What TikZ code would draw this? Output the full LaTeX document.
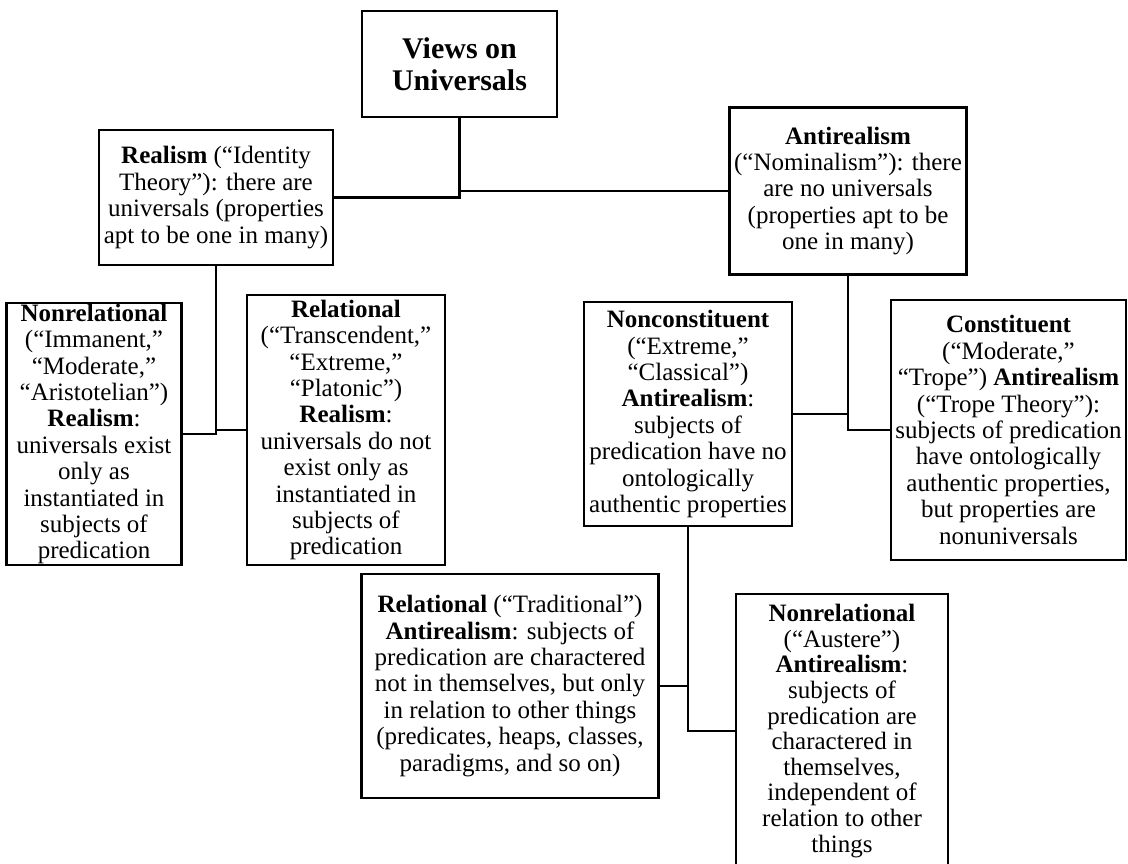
\documentclass[tikz,border=0pt]{standalone}
\usepackage{fontspec}
\setmainfont{Liberation Serif}
\tikzset{
	box/.style={draw, line width=1.4pt, align=center, inner sep=0pt,
		font=\fontsize{12.5}{13.2}\selectfont},
	link/.style={line width=1.4pt}
}
\begin{document}
\begin{tikzpicture}[x=0.5pt, y=-0.5pt]
		\useasboundingbox (0,0) rectangle (1128,863);
		\clip (0,0) rectangle (1128,863);
		
		% Caixas
		\node[box, minimum width=97.5pt, minimum height=53pt, font=\fontsize{15}{16}\selectfont\bfseries] (views) at (459.5,64)
			{Views on\\Universals};											% Topo
		\node[box, minimum width=117pt, minimum height=67.5pt] (real) at (216,197.5)
			{\textbf{Realism} (“Identity\\Theory”): there are\\universals (properties\\apt to be one in many)};
		\node[box, minimum width=118.5pt, minimum height=83.5pt] (anti) at (848,191)
			{\textbf{Antirealism}\\(“Nominalism”): there\\are no universals\\(properties apt to be\\one in many)};
		
		\node[box, minimum width=87.5pt, minimum height=131pt] (nonrel) at (94,434)
			{\textbf{Nonrelational}\\(“Immanent,”\\“Moderate,”\\“Aristotelian”)\\\textbf{Realism}:\\universals exist\\only as\\instantiated in\\subjects of\\predication};
		\node[box, minimum width=99pt, minimum height=135pt] (rel) at (346,430)
			{\textbf{Relational}\\(“Transcendent,”\\“Extreme,”\\“Platonic”)\\\textbf{Realism}:\\universals do not\\exist only as\\instantiated in\\subjects of\\predication};
		
		\node[box, minimum width=104pt, minimum height=112pt] (noncon) at (688,414)
			{\textbf{Nonconstituent}\\(“Extreme,”\\“Classical”)\\\textbf{Antirealism}:\\subjects of\\predication have no\\ontologically\\authentic properties};
		\node[box, minimum width=117.5pt, minimum height=130pt] (con) at (1008.5,430)
			{\textbf{Constituent}\\(“Moderate,”\\“Trope”) \textbf{Antirealism}\\(“Trope Theory”):\\subjects of predication\\have ontologically\\authentic properties,\\but properties are\\nonuniversals};
		
		\node[box, minimum width=148.5pt, minimum height=112pt] (reltrad) at (510,686)
			{\textbf{Relational} (“Traditional”)\\\textbf{Antirealism}: subjects of\\predication are charactered\\not in themselves, but only\\in relation to other things\\(predicates, heaps, classes,\\paradigms, and so on)};
		\node[box, minimum width=106pt, minimum height=137pt, font=\fontsize{12.5}{12.8}\selectfont] (austere) at (842,731)
			{\textbf{Nonrelational}\\(“Austere”)\\\textbf{Antirealism}:\\subjects of\\predication are\\charactered in\\themselves,\\independent of\\relation to other\\things};
		
		% Ligacoes
		\draw[link] (real.east) -| (views.south);
		\draw[link] (views.south) |- (anti.west);
		\draw[link] (nonrel.east) -| (real.south);
		\draw[link] (rel.west) -| (real.south);
		\draw[link] (anti.south) |- (con.west);
		\draw[link] (noncon.east) -| (anti.south);
		\draw[link] (reltrad.east) -| (noncon.south);
		\draw[link] (noncon.south) |- (austere.west);
	\end{tikzpicture}
\end{document}
